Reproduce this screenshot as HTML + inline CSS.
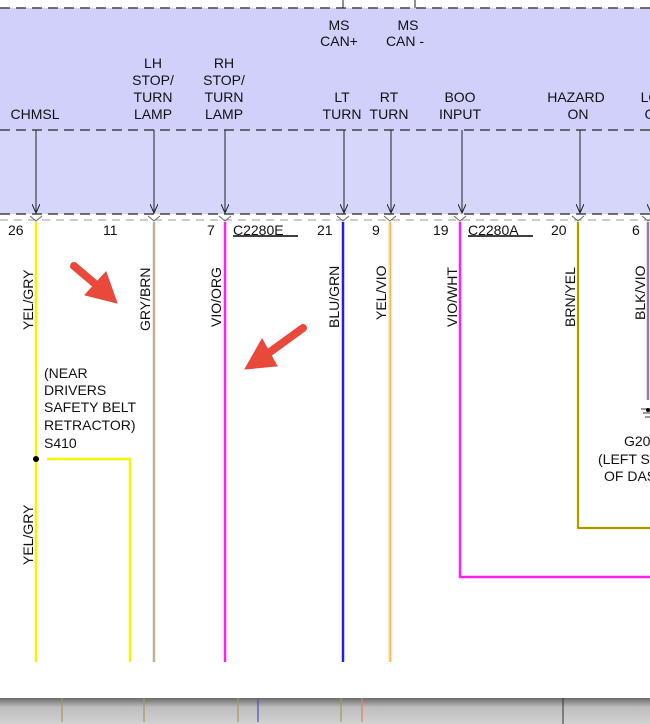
<!DOCTYPE html><html><head><style>body{margin:0;background:#fff}svg{display:block}text{font-family:"Liberation Sans",sans-serif;font-size:14px;fill:#111}</style></head><body>
<svg width="650" height="724" viewBox="0 0 650 724">
<defs><linearGradient id="g" x1="0" y1="0" x2="0" y2="1"><stop offset="0" stop-color="#6a6a6a"/><stop offset="0.35" stop-color="#bdbdbd"/><stop offset="1" stop-color="#d2d2d2"/></linearGradient>
<marker id="ah" markerWidth="10" markerHeight="8" refX="9" refY="4" orient="auto"><path d="M0,0 L9,4 L0,8" fill="none" stroke="#222" stroke-width="1"/></marker></defs>
<rect x="0" y="8" width="650" height="206" fill="#d0d0fb"/>
<rect x="0" y="130" width="650" height="84" fill="#d6d6fb"/>
<g stroke="#444" stroke-width="1.5" stroke-dasharray="10,6"><line x1="0" y1="8" x2="650" y2="8"/><line x1="0" y1="130" x2="650" y2="130"/><line x1="0" y1="214" x2="650" y2="214"/></g>
<line x1="0" y1="220" x2="650" y2="220" stroke="#999" stroke-dasharray="8,6"/>
<line x1="343" y1="0" x2="343" y2="8" stroke="#222"/><line x1="415" y1="0" x2="415" y2="8" stroke="#222"/>
<g text-anchor="middle">
<text x="339" y="30">MS</text><text x="339" y="46">CAN+</text>
<text x="408" y="30">MS</text><text x="405" y="46">CAN  -</text>
<text x="35" y="119">CHMSL</text>
<text x="153" y="68">LH</text><text x="153" y="85">STOP/</text><text x="153" y="102">TURN</text><text x="153" y="119">LAMP</text>
<text x="224" y="68">RH</text><text x="224" y="85">STOP/</text><text x="224" y="102">TURN</text><text x="224" y="119">LAMP</text>
<text x="342" y="102">LT</text><text x="342" y="119">TURN</text>
<text x="389" y="102">RT</text><text x="389" y="119">TURN</text>
<text x="460" y="102">BOO</text><text x="460" y="119">INPUT</text>
<text x="576" y="102">HAZARD</text><text x="578" y="119">ON</text>
<text x="655" y="102">LOC</text><text x="655" y="119">GN</text>
</g>
<g stroke="#222" stroke-width="1" marker-end="url(#ah)">
<line x1="36" y1="130" x2="36" y2="213"/><line x1="154" y1="130" x2="154" y2="213"/><line x1="225" y1="130" x2="225" y2="213"/><line x1="344" y1="130" x2="344" y2="213"/><line x1="391" y1="130" x2="391" y2="213"/><line x1="462" y1="130" x2="462" y2="213"/><line x1="580" y1="130" x2="580" y2="213"/><line x1="651" y1="130" x2="651" y2="213"/></g>
<g fill="none" stroke-width="2.5">
<path d="M36 222V662" stroke="#f5f500"/>
<path d="M47 459H130V662" stroke="#f5f500"/>
<path d="M154 222V662" stroke="#bfb090"/>
<path d="M225 222V662" stroke="#ff22ee"/>
<path d="M343 222V662" stroke="#2020ee"/>
<path d="M390 222V662" stroke="#ffb060"/><path d="M389.5 222V662" stroke="#f0f000" stroke-width="1.2"/>
<path d="M460 222V577H650" stroke="#ff22ee"/>
<path d="M578 222V528H650" stroke="#f0f000"/><path d="M578 222V528H650" stroke="#806010" stroke-width="1.2"/>
<path d="M648 222V400" stroke="#9a7aa0"/>
</g>
<g fill="none" stroke="#666" stroke-width="1"><path d="M30 216 L36 221 L42 216"/><path d="M148 216 L154 221 L160 216"/><path d="M219 216 L225 221 L231 216"/><path d="M337 216 L343 221 L349 216"/><path d="M384 216 L390 221 L396 216"/><path d="M454 216 L460 221 L466 216"/><path d="M572 216 L578 221 L584 216"/><path d="M642 216 L648 221 L654 216"/></g>
<circle cx="36" cy="459" r="3" fill="#000"/>
<g font-size="14"><text x="8" y="235">26</text><text x="103" y="235">11</text><text x="207" y="235">7</text><text x="317" y="235">21</text><text x="372" y="235">9</text><text x="433" y="235">19</text><text x="551" y="235">20</text><text x="632" y="235">6</text></g>
<text x="233" y="235">C2280E</text><line x1="233" y1="236" x2="298" y2="236" stroke="#000" stroke-width="1.5"/>
<text x="468" y="235">C2280A</text><line x1="468" y1="236" x2="533" y2="236" stroke="#000" stroke-width="1.5"/>
<g font-size="13">
<text transform="translate(33,330) rotate(-90)">YEL/GRY</text>
<text transform="translate(33,565) rotate(-90)">YEL/GRY</text>
<text transform="translate(150,331) rotate(-90)">GRY/BRN</text>
<text transform="translate(221,327) rotate(-90)">VIO/ORG</text>
<text transform="translate(339,328) rotate(-90)">BLU/GRN</text>
<text transform="translate(386,320) rotate(-90)">YEL/VIO</text>
<text transform="translate(457,327) rotate(-90)">VIO/WHT</text>
<text transform="translate(575,327) rotate(-90)">BRN/YEL</text>
<text transform="translate(645,320) rotate(-90)">BLK/VIO</text>
</g>
<g font-size="14"><text x="44" y="378">(NEAR</text><text x="44" y="395">DRIVERS</text><text x="44" y="412">SAFETY BELT</text><text x="44" y="430">RETRACTOR)</text><text x="44" y="448">S410</text>
<text x="624" y="446">G20</text><text x="598" y="464">(LEFT S</text><text x="604" y="481">OF DAS</text></g>
<g stroke="#333" stroke-width="1"><line x1="641" y1="409" x2="650" y2="409"/><line x1="643" y1="413" x2="650" y2="413"/><line x1="645" y1="417" x2="650" y2="417"/></g><circle cx="648" cy="410" r="2" fill="#000"/>
<g fill="#e8493a" stroke="#e8493a" stroke-linecap="round">
<line x1="74" y1="266" x2="100" y2="288" stroke-width="8"/><polygon points="85,295 106,272 117,303"/>
<line x1="303" y1="328" x2="270" y2="352" stroke-width="8"/><polygon points="262,339 277,366 245,369"/>
</g>
<rect x="0" y="698" width="650" height="26" fill="url(#g)"/>
<line x1="563" y1="698" x2="563" y2="724" stroke="#333"/>
<g stroke-width="1.2" fill="none"><path d="M62 698V722" stroke="#a09860"/><path d="M144 698V722" stroke="#a09860"/><path d="M238 698V722" stroke="#a09860"/><path d="M258 698V722" stroke="#4050c0"/><path d="M341 698V722" stroke="#a09860"/><path d="M362 698V722" stroke="#e08060"/></g>
</svg></body></html>
